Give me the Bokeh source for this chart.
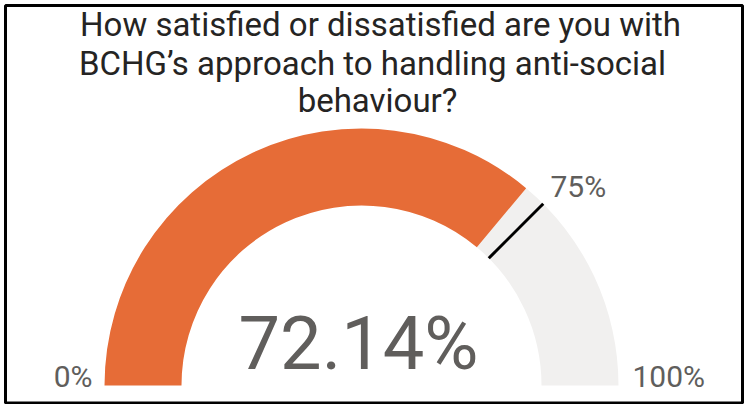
import math
from bokeh.plotting import figure
from bokeh.models import Range1d
from bokeh.core.properties import value
from bokeh.embed import file_html
from bokeh.resources import INLINE

# ---- data ----
title_lines = ["How satisfied or dissatisfied are you with",
               "BCHG\u2019s approach to handling anti-social",
               "behaviour?"]
gauge_min = 0
gauge_max = 100
gauge_value = 72.14
gauge_target = 75
min_label = "0%"
max_label = "100%"
target_label = "75%"
value_label = "72.14%"

FONT = "Roboto"
ORANGE = "#E66C37"
TRACK = "#F1F0EF"
GREY = "#605E5C"
DARK = "#252423"

W, H = 745, 404
p = figure(width=W, height=H, output_backend="svg", toolbar_location=None,
           x_range=Range1d(0, W), y_range=Range1d(0, H),
           min_border=0)
p.axis.visible = False
p.grid.visible = False
p.background_fill_color = "white"
p.border_fill_color = "white"
p.outline_line_color = None

# frame border
p.quad(left=[5], right=[742], top=[H - 5], bottom=[H - 402.5],
       fill_color=None, line_color="black", line_width=3)

cx, cy = 361, H - 385
r_in, r_out = 180, 257


def ang(v):
    return math.pi * (1 - (v - gauge_min) / (gauge_max - gauge_min))


def ty(baseline, fs):
    # page baseline -> data y (empirical baseline correction)
    return H - baseline + 0.35 * fs


a_val = ang(gauge_value)
a_tgt = ang(gauge_target)

# track (value -> max)
p.annular_wedge(x=[cx], y=[cy], inner_radius=r_in, outer_radius=r_out,
                start_angle=[ang(gauge_max)], end_angle=[a_val],
                fill_color=TRACK, line_color=None)
# value (min -> value)
p.annular_wedge(x=[cx], y=[cy], inner_radius=r_in, outer_radius=r_out,
                start_angle=[a_val], end_angle=[ang(gauge_min)],
                fill_color=ORANGE, line_color=None)
# target marker
p.segment(x0=[cx + r_in * math.cos(a_tgt)], y0=[cy + r_in * math.sin(a_tgt)],
          x1=[cx + r_out * math.cos(a_tgt)], y1=[cy + r_out * math.sin(a_tgt)],
          line_color="black", line_width=3)

# title
fs_t = 33
p.text(x=[380, 372, 377], y=[ty(36, fs_t), ty(75, fs_t), ty(112, fs_t)],
       text=title_lines, text_align="center",
       text_baseline="alphabetic", text_color=DARK,
       text_font=value(FONT), text_font_size=f"{fs_t}px")

# labels
fs_l = 30
p.text(x=[92], y=[ty(386, fs_l)], text=[min_label], text_align="right",
       text_baseline="alphabetic", text_color=GREY,
       text_font=value(FONT), text_font_size=f"{fs_l}px")
p.text(x=[632], y=[ty(386, fs_l)], text=[max_label], text_align="left",
       text_baseline="alphabetic", text_color=GREY,
       text_font=value(FONT), text_font_size=f"{fs_l}px")
p.text(x=[550], y=[ty(196, fs_l)], text=[target_label], text_align="left",
       text_baseline="alphabetic", text_color=GREY,
       text_font=value(FONT), text_font_size=f"{fs_l}px")
fs_v = 74
p.text(x=[358], y=[ty(369, fs_v)], text=[value_label], text_align="center",
       text_baseline="alphabetic", text_color=GREY,
       text_font=value(FONT), text_font_size=f"{fs_v}px")

open("out.html", "w").write(file_html(p, INLINE))
